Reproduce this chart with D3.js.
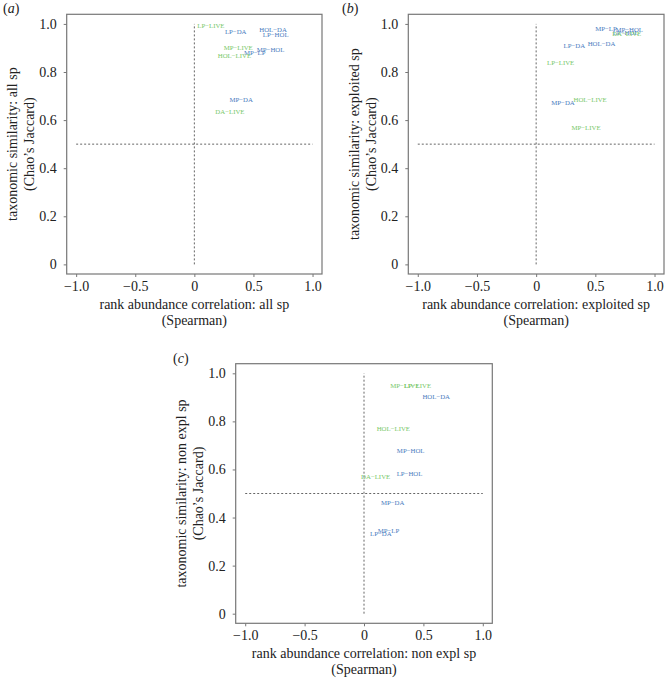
<!DOCTYPE html>
<html><head><meta charset="utf-8">
<script src="https://cdnjs.cloudflare.com/ajax/libs/d3/7.8.5/d3.min.js"></script>
<style>body{margin:0;background:#fff}svg{display:block}
svg text{font-family:"Liberation Serif","Times New Roman",Times,"DejaVu Serif",serif;}</style>
</head><body>
<svg id="chart" width="665" height="679"></svg>
<script>
// pair labels (LIVE-containing pairs are green)
const pairs = ["LP−LIVE","LP−DA","HOL−DA","LP−HOL","MP−LIVE","MP−HOL","MP−LP","HOL−LIVE","MP−DA","DA−LIVE"];
// panel (a) all sp
const allX = [0.14, 0.35, 0.666, 0.688, 0.371, 0.645, 0.511, 0.339, 0.396, 0.301];
const allY = [0.992, 0.970, 0.975, 0.958, 0.904, 0.892, 0.881, 0.870, 0.685, 0.634];
// panel (b) exploited sp
const expX = [0.207, 0.323, 0.552, 0.755, 0.421, 0.786, 0.59, 0.456, 0.227, 0.765];
const expY = [0.839, 0.911, 0.917, 0.963, 0.570, 0.977, 0.981, 0.684, 0.673, 0.960];
// panel (c) non expl sp
const nonX = [0.451, 0.142, 0.608, 0.383, 0.344, 0.393, 0.206, 0.247, 0.241, 0.098];
const nonY = [0.950, 0.332, 0.904, 0.583, 0.948, 0.680, 0.344, 0.770, 0.461, 0.571];

const xTicks = [-1, -0.5, 0, 0.5, 1];
const yTicks = [0, 0.2, 0.4, 0.6, 0.8, 1];

const panels = [
  {tag:"a", xs:allX, ys:allY, xt:"rank abundance correlation: all sp", yt:"taxonomic similarity: all sp",
   box:{l:66.7, r:322, t:14.3, b:274}, lab:{x:3, y:13}},
  {tag:"b", xs:expX, ys:expY, xt:"rank abundance correlation: exploited sp", yt:"taxonomic similarity: exploited sp",
   box:{l:408.3, r:664, t:14.3, b:274}, lab:{x:342, y:13}},
  {tag:"c", xs:nonX, ys:nonY, xt:"rank abundance correlation: non expl sp", yt:"taxonomic similarity: non expl sp",
   box:{l:235.7, r:492.3, t:363.7, b:623.3}, lab:{x:173, y:363}}
];

const blue = "#4a7cc0", green = "#78c86a";
const svg = d3.select("#chart");
const fmtX = v => v === 0 ? "0" : (v < 0 ? "−" : "") + Math.abs(v).toFixed(1);
const fmtY = v => v === 0 ? "0" : v.toFixed(1);

panels.forEach(p => {
  const g = svg.append("g");
  const x = d3.scaleLinear().domain([-1.08, 1.08]).range([p.box.l, p.box.r]);
  const y = d3.scaleLinear().domain([-0.04, 1.04]).range([p.box.b, p.box.t]);

  const t = g.append("text").attr("x", p.lab.x).attr("y", p.lab.y)
    .attr("font-size", 14).attr("fill", "#222");
  t.append("tspan").text("(");
  t.append("tspan").attr("font-style", "italic").text(p.tag);
  t.append("tspan").text(")");

  const xa = g.append("g").attr("transform", `translate(0,${p.box.b})`)
    .call(d3.axisBottom(x).tickValues(xTicks).tickFormat(fmtX).tickSize(3).tickPadding(4));
  const ya = g.append("g").attr("transform", `translate(${p.box.l},0)`)
    .call(d3.axisLeft(y).tickValues(yTicks).tickFormat(fmtY).tickSize(3).tickPadding(7));
  [xa, ya].forEach(a => {
    a.attr("font-family", null);
    a.select(".domain").remove();
    a.selectAll("line").attr("stroke", "#777");
    a.selectAll("text").attr("font-size", 14).attr("fill", "#222");
  });

  g.append("rect").attr("x", p.box.l).attr("y", p.box.t)
    .attr("width", p.box.r - p.box.l).attr("height", p.box.b - p.box.t)
    .attr("fill", "none").attr("stroke", "#777").attr("stroke-width", 1.2);

  g.append("line").attr("x1", x(-1)).attr("x2", x(1)).attr("y1", y(0.5)).attr("y2", y(0.5))
    .attr("stroke", "#666").attr("stroke-dasharray", "2,2").attr("stroke-width", 1);
  g.append("line").attr("x1", x(0)).attr("x2", x(0)).attr("y1", y(0)).attr("y2", y(1))
    .attr("stroke", "#666").attr("stroke-dasharray", "2,2").attr("stroke-width", 1);

  g.selectAll("text.pt").data(pairs).enter().append("text").attr("class", "pt")
    .attr("x", (d, i) => x(p.xs[i])).attr("y", (d, i) => y(p.ys[i]))
    .attr("text-anchor", "middle").attr("dominant-baseline", "central")
    .attr("font-size", 6.8)
    .attr("fill", d => d.includes("LIVE") ? green : blue)
    .text(d => d);

  const cx = (p.box.l + p.box.r) / 2, cy = (p.box.t + p.box.b) / 2;
  g.append("text").attr("x", cx).attr("y", p.box.b + 30).attr("text-anchor", "middle")
    .attr("dominant-baseline", "central").attr("font-size", 14).attr("fill", "#222").text(p.xt);
  g.append("text").attr("x", cx).attr("y", p.box.b + 46).attr("text-anchor", "middle")
    .attr("dominant-baseline", "central").attr("font-size", 14).attr("fill", "#222").text("(Spearman)");
  g.append("text").attr("transform", `translate(${p.box.l - 54},${cy}) rotate(-90)`).attr("text-anchor", "middle")
    .attr("dominant-baseline", "central").attr("font-size", 14).attr("fill", "#222").text(p.yt);
  g.append("text").attr("transform", `translate(${p.box.l - 37},${cy}) rotate(-90)`).attr("text-anchor", "middle")
    .attr("dominant-baseline", "central").attr("font-size", 14).attr("fill", "#222").text("(Chao’s Jaccard)");
});
</script>
</body></html>
